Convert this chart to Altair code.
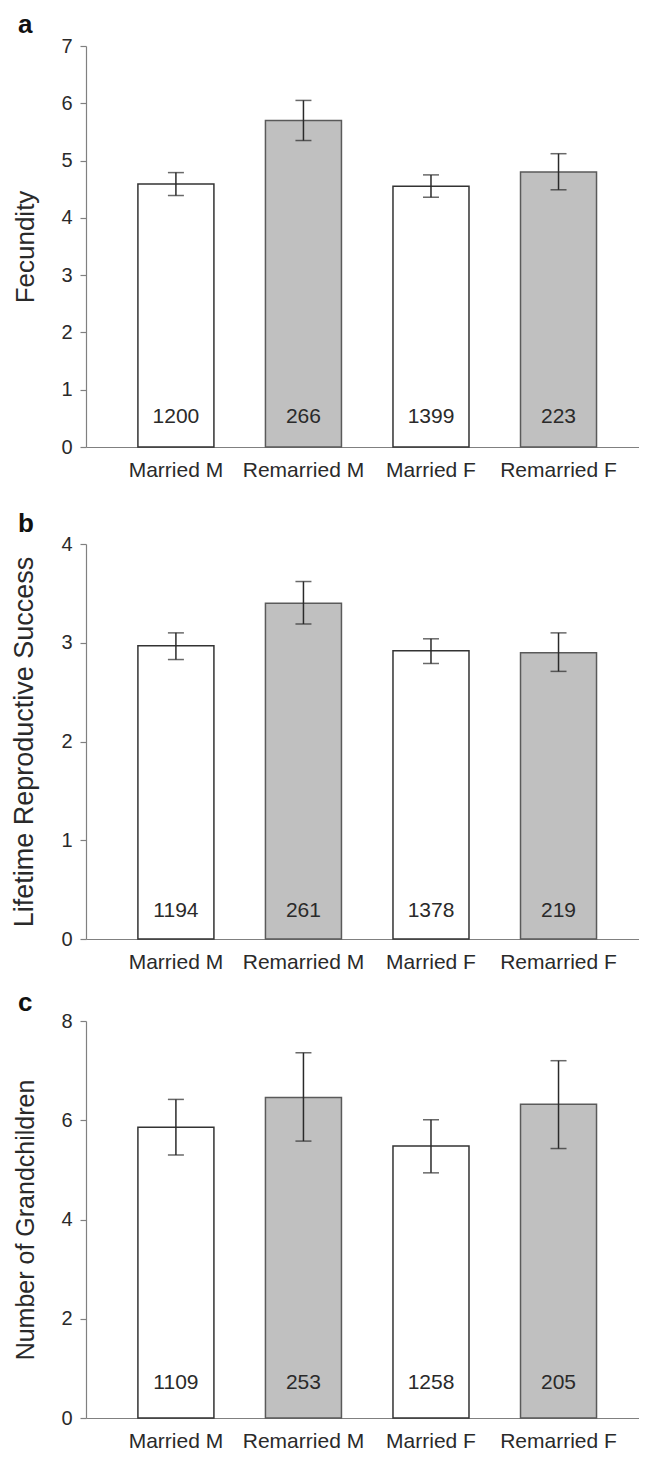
import altair as alt
import pandas as pd

categories = ["Married M", "Remarried M", "Married F", "Remarried F"]
status = ["Married", "Remarried", "Married", "Remarried"]

fec_mean = [4.59, 5.70, 4.55, 4.80]
fec_lo = [4.39, 5.35, 4.36, 4.49]
fec_hi = [4.79, 6.05, 4.75, 5.12]
fec_n = [1200, 266, 1399, 223]

lrs_mean = [2.97, 3.40, 2.92, 2.90]
lrs_lo = [2.83, 3.19, 2.79, 2.71]
lrs_hi = [3.10, 3.62, 3.04, 3.10]
lrs_n = [1194, 261, 1378, 219]

gc_mean = [5.86, 6.46, 5.48, 6.32]
gc_lo = [5.30, 5.58, 4.94, 5.43]
gc_hi = [6.42, 7.36, 6.01, 7.20]
gc_n = [1109, 253, 1258, 205]

FONT = "Liberation Sans"
DARK = "#2a2a2a"
W = 553
H_A, H_B, H_C = 401, 395, 397
GAP_AB, GAP_BC = 97, 82
PAD_TOP, PAD_LEFT = 38, 78


def panel(letter, title, mean, lo, hi, n, ymax, tick_values, height, label_dy, letter_y, title_size):
    df = pd.DataFrame({
        "cat": categories, "status": status, "mean": mean,
        "lo": lo, "hi": hi, "n": n, "zero": [0] * len(categories),
    })
    x_enc = alt.X(
        "cat:N", sort=categories, title=None,
        scale=alt.Scale(paddingInner=0.404, paddingOuter=0.37, align=0.55),
        axis=alt.Axis(labelAngle=0, ticks=False, tickSize=0, labelPadding=12,
                      labelFontSize=21, domainColor="#808080", domainWidth=1.2),
    )

    def yenc(field):
        return alt.Y(
            field, title=title,
            scale=alt.Scale(domain=[0, ymax], nice=False, zero=True),
            axis=alt.Axis(values=tick_values, grid=False, tickSize=6, labelPadding=8,
                          titlePadding=22, labelFontSize=20, titleFontSize=title_size,
                          domainColor="#808080", tickColor="#808080", domainWidth=1.2,
                          tickWidth=1.2),
        )

    base = alt.Chart(df)
    bars = base.mark_bar(strokeWidth=1.5).encode(
        x=x_enc, y=yenc("mean:Q"),
        fill=alt.Fill("status:N", scale=alt.Scale(domain=["Married", "Remarried"],
                                                   range=["#ffffff", "#c0c0c0"]), legend=None),
        stroke=alt.Stroke("status:N", scale=alt.Scale(domain=["Married", "Remarried"],
                                                       range=["#333333", "#5a5a5a"]), legend=None),
    )
    rule = base.mark_rule(color=DARK, strokeWidth=1.5).encode(
        x=x_enc, y=yenc("lo:Q"), y2="hi:Q")
    tick_lo = base.mark_tick(size=16, thickness=1.5, color=DARK).encode(x=x_enc, y=yenc("lo:Q"))
    tick_hi = base.mark_tick(size=16, thickness=1.5, color=DARK).encode(x=x_enc, y=yenc("hi:Q"))
    labels = base.mark_text(fontSize=21, dy=label_dy, baseline="middle", color=DARK).encode(
        x=x_enc, y=yenc("zero:Q"), text="n:Q")
    let = alt.Chart(pd.DataFrame({"letter": [letter]})).mark_text(
        fontSize=26, fontWeight="bold", align="left", baseline="alphabetic", color="#111"
    ).encode(x=alt.value(-68), y=alt.value(letter_y), text="letter:N")
    return alt.layer(bars, rule, tick_lo, tick_hi, labels, let).properties(width=W, height=height)


pa = panel("a", "Fecundity", fec_mean, fec_lo, fec_hi, fec_n, 7, [0, 1, 2, 3, 4, 5, 6, 7], H_A, -30, -13, 26)
pb = panel("b", "Lifetime Reproductive Success", lrs_mean, lrs_lo, lrs_hi, lrs_n, 4, [0, 1, 2, 3, 4], H_B, -28, -12, 27)
pc = panel("c", "Number of Grandchildren", gc_mean, gc_lo, gc_hi, gc_n, 8, [0, 2, 4, 6, 8], H_C, -35, -10, 25)

chart = alt.vconcat(
    pa,
    alt.vconcat(pb, pc, spacing=GAP_BC, bounds="flush"),
    spacing=GAP_AB, bounds="flush",
).properties(
    autosize=alt.AutoSizeParams(type="none"),
    padding={"left": PAD_LEFT, "top": PAD_TOP, "right": 0,
             "bottom": 1444 - PAD_TOP},
).configure(
    font=FONT,
).configure_view(stroke=None).configure_axis(
    labelColor=DARK, titleColor=DARK, titleFontWeight="normal", labelFont=FONT, titleFont=FONT,
)

chart.save("out.html", embed_options={"renderer": "svg", "actions": False})
